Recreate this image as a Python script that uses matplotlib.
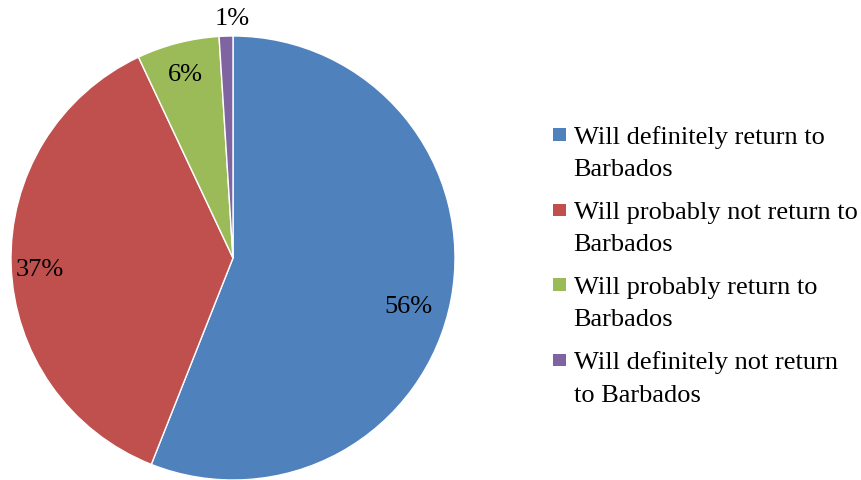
import numpy as np
import matplotlib.pyplot as plt
from matplotlib.legend_handler import HandlerPatch
from matplotlib.patches import Rectangle, Wedge

plt.rcParams['font.family'] = ['Liberation Serif', 'DejaVu Serif']

labels: list[str] = [
    "Will definitely return to\nBarbados",
    "Will probably not return to\nBarbados",
    "Will probably return to\nBarbados",
    "Will definitely not return\nto Barbados",
]
shares: list[float] = [56, 37, 6, 1]
colors: list[str] = ["#4F81BD", "#C0504D", "#9BBB59", "#8064A2"]

# where each percent label sits: radius (pie = 1) and turn from slice middle
label_r = [0.82, 0.87, 0.855, 1.08]
label_turn = [-4.5, 1.5, 0.0, -1.6]


class TopSquare(HandlerPatch):
    # put the legend square next to the first line of a two line label
    def create_artists(self, legend, orig_handle, xdescent, ydescent,
                       width, height, fontsize, trans):
        size = fontsize * 0.48
        p = Rectangle((-xdescent, -ydescent + fontsize * 0.76), size, size,
                      facecolor=orig_handle.get_facecolor(), edgecolor="none",
                      transform=trans)
        return [p]


fig = plt.figure(figsize=(8.61, 4.81), dpi=100)
ax = fig.add_axes([11 / 861, 0, 444 / 861, 444 / 481])

wedges, texts, autotexts = ax.pie(
    shares, colors=colors, startangle=90, counterclock=False,
    autopct="%1.0f%%",
    wedgeprops=dict(edgecolor="white", linewidth=1),
    textprops=dict(fontsize=19, color="black"),
)
for w, t, r, turn in zip(wedges, autotexts, label_r, label_turn):
    mid = np.deg2rad((w.theta1 + w.theta2) / 2 + turn)
    t.set_position((r * np.cos(mid), r * np.sin(mid)))
ax.set_xlim(-1, 1)
ax.set_ylim(-1, 1)
ax.set_aspect("equal")
ax.axis("off")

leg = fig.legend(wedges, labels, loc="upper left",
                 bbox_to_anchor=(553 / 861, (481 - 126) / 481),
                 frameon=False, fontsize=19, borderpad=0, borderaxespad=0,
                 handlelength=0.5, handletextpad=0.28, labelspacing=0.78,
                 handler_map={Wedge: TopSquare()})
for t in leg.get_texts():
    t.set_linespacing(1.6)

fig.savefig("out.png", dpi=100)
